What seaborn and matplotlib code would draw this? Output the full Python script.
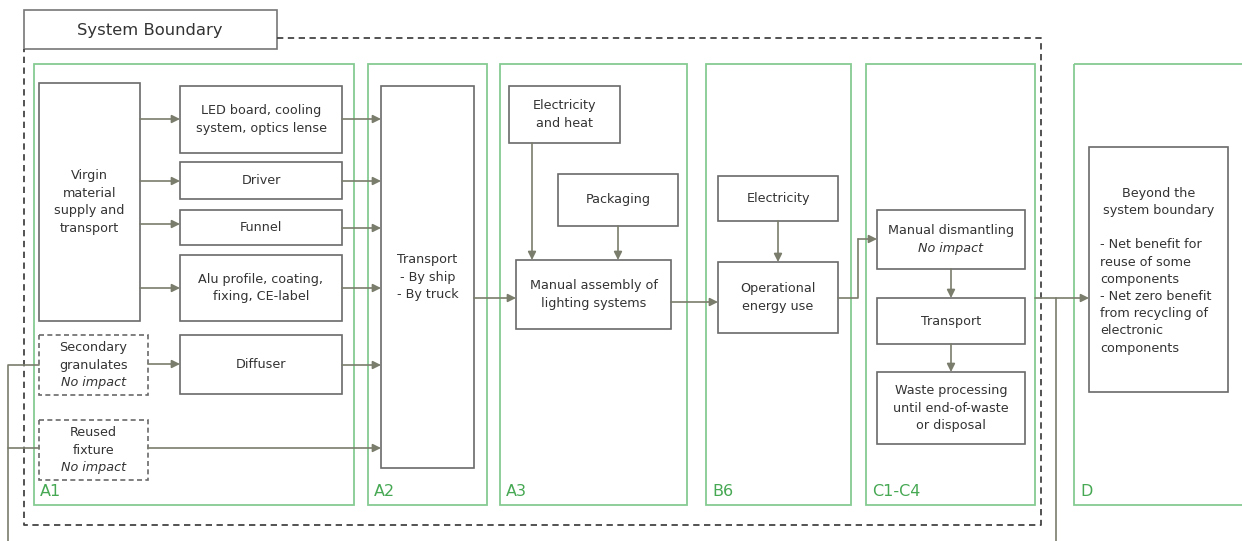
import matplotlib
matplotlib.use("Agg")
import matplotlib.pyplot as plt
import seaborn as sns
from matplotlib.patches import Rectangle

# Stage (life-cycle module) labels and their frames
stage_names = ["A1", "A2", "A3", "B6", "C1-C4", "D"]
stage_x0 = [34, 368, 500, 706, 866, 1074]
stage_x1 = [354, 487, 687, 851, 1035, 1260]

# Process boxes: text lines ("*" = italic line)
box_labels = {
    "virgin": ["Virgin", "material", "supply and", "transport"],
    "led": ["LED board, cooling", "system, optics lense"],
    "driver": ["Driver"],
    "funnel": ["Funnel"],
    "alu": ["Alu profile, coating,", "fixing, CE-label"],
    "secondary": ["Secondary", "granulates", "*No impact"],
    "diffuser": ["Diffuser"],
    "reused": ["Reused", "fixture", "*No impact"],
    "transport_a2": ["Transport", "- By ship", "- By truck"],
    "elec_heat": ["Electricity", "and heat"],
    "packaging": ["Packaging"],
    "assembly": ["Manual assembly of", "lighting systems"],
    "elec": ["Electricity"],
    "operational": ["Operational", "energy use"],
    "dismantling": ["Manual dismantling", "*No impact"],
    "transport_c": ["Transport"],
    "waste": ["Waste processing", "until end-of-waste", "or disposal"],
}
box_rects = {
    "virgin": (39, 83, 140, 321),
    "led": (180, 86, 342, 153),
    "driver": (180, 162, 342, 199),
    "funnel": (180, 210, 342, 245),
    "alu": (180, 255, 342, 321),
    "secondary": (39, 335, 148, 395),
    "diffuser": (180, 335, 342, 394),
    "reused": (39, 420, 148, 480),
    "transport_a2": (381, 86, 474, 468),
    "elec_heat": (509, 86, 620, 143),
    "packaging": (558, 174, 678, 226),
    "assembly": (516, 260, 671, 329),
    "elec": (718, 176, 838, 221),
    "operational": (718, 262, 838, 333),
    "dismantling": (877, 210, 1025, 269),
    "transport_c": (877, 298, 1025, 344),
    "waste": (877, 372, 1025, 444),
}
dashed_boxes = ["secondary", "reused"]

beyond_title = ["Beyond the", "system boundary"]
beyond_notes = ["- Net benefit for", "reuse of some", "components",
                "- Net zero benefit", "from recycling of", "electronic",
                "components"]

# Connectors: list of (x, y) points, last segment gets an arrow head
arrows = [
    [(140, 119), (180, 119)], [(140, 181), (180, 181)],
    [(140, 224), (180, 224)], [(140, 288), (180, 288)],
    [(148, 364), (180, 364)],
    [(342, 119), (381, 119)], [(342, 181), (381, 181)],
    [(342, 228), (381, 228)], [(342, 288), (381, 288)],
    [(342, 365), (381, 365)], [(148, 448), (381, 448)],
    [(474, 298), (516, 298)],
    [(532, 143), (532, 260)], [(618, 226), (618, 260)],
    [(671, 302), (718, 302)],
    [(778, 221), (778, 262)],
    [(838, 298), (858, 298), (858, 239), (877, 239)],
    [(951, 269), (951, 298)], [(951, 344), (951, 372)],
    [(1035, 298), (1089, 298)],
]
plain_lines = [
    [(8, 541), (8, 365), (39, 365)],
    [(8, 448), (39, 448)],
    [(1056, 298), (1056, 541)],
]

sns.set_style("white")
plt.rcParams["font.family"] = ["DejaVu Sans"]

box_color = "#6a6a6a"
arrow_color = "#7a7d6c"
green = "#86cc92"
green_text = "#46a853"
fs = 9.2
dy = 17.5

fig = plt.figure(figsize=(12.42, 5.41), dpi=100)
ax = fig.add_axes([0, 0, 1, 1])
ax.set_xlim(0, 1242)
ax.set_ylim(541, 0)
ax.axis("off")

# System boundary
ax.plot([277, 1041, 1041, 24, 24], [38, 38, 525, 525, 49],
        ls=(0, (3.5, 2.5)), color="#444444", lw=1.3)
ax.add_patch(Rectangle((24, 10), 253, 39, fill=False, ec="#777777", lw=1.2))
ax.text(150, 30, "System Boundary", ha="center", va="center",
        fontsize=11.8, color="#333333")

# Stages
for name, x0, x1 in zip(stage_names, stage_x0, stage_x1):
    ax.add_patch(Rectangle((x0, 64), x1 - x0, 441, fill=False, ec=green, lw=1.3))
    ax.text(x0 + 6, 491, name, ha="left", va="center", fontsize=11.5,
            color=green_text)


def put_lines(lines, cx, cy, ha="center"):
    n = len(lines)
    for i, line in enumerate(lines):
        italic = line.startswith("*")
        y = cy + (i - (n - 1) / 2) * dy
        ax.text(cx, y, line.lstrip("*"), ha=ha, va="center", fontsize=fs,
                color="#333333", style="italic" if italic else "normal")


for key, (x0, y0, x1, y1) in box_rects.items():
    ls = (0, (3, 2)) if key in dashed_boxes else "-"
    ax.add_patch(Rectangle((x0, y0), x1 - x0, y1 - y0, fill=False,
                           ec=box_color, lw=1.2, ls=ls))
    put_lines(box_labels[key], (x0 + x1) / 2, (y0 + y1) / 2)

# Box D
ax.add_patch(Rectangle((1089, 147), 139, 245, fill=False, ec=box_color, lw=1.2))
for i, line in enumerate(beyond_title):
    ax.text(1159, 193 + i * 17.3, line, ha="center", va="center",
            fontsize=fs, color="#333333")
for i, line in enumerate(beyond_notes):
    ax.text(1100, 245 + i * 17.2, line, ha="left", va="center",
            fontsize=fs, color="#333333")

# Connectors
for pts in arrows:
    xs, ys = zip(*pts)
    if len(pts) > 2:
        ax.plot(xs[:-1], ys[:-1], color=arrow_color, lw=1.2)
    ax.annotate("", xy=pts[-1], xytext=pts[-2],
                arrowprops=dict(arrowstyle="-|>", color=arrow_color, lw=1.2,
                                mutation_scale=12, shrinkA=0, shrinkB=0))
for pts in plain_lines:
    xs, ys = zip(*pts)
    ax.plot(xs, ys, color=arrow_color, lw=1.2)

plt.savefig("out.png", dpi=100)
plt.close()
